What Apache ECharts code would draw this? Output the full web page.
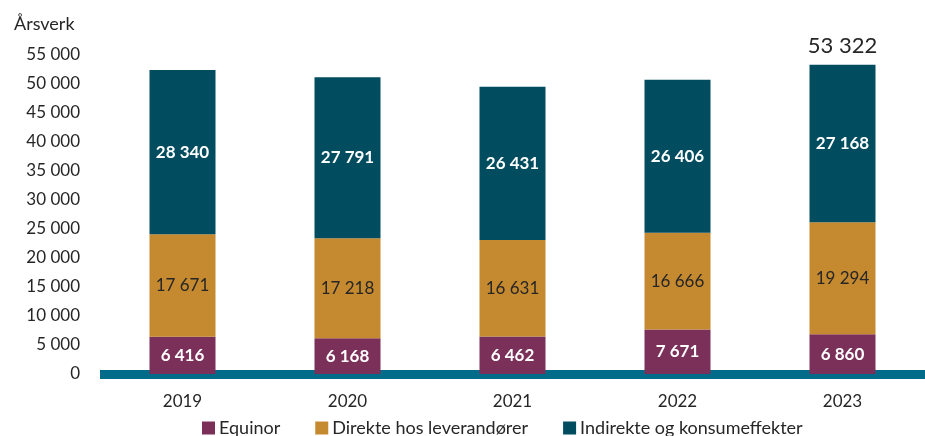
<!DOCTYPE html>
<html>
<head>
<meta charset="utf-8">
<script src="https://cdn.jsdelivr.net/npm/echarts@6/dist/echarts.min.js"></script>
<style>
  html, body { margin: 0; padding: 0; background: #fff; }
  #chart { width: 925px; height: 436px; }
</style>
</head>
<body>
<div id="chart"></div>
<script>
const years = ['2019', '2020', '2021', '2022', '2023']
const equinor = [6416, 6168, 6462, 7671, 6860]
const direkte = [17671, 17218, 16631, 16666, 19294]
const indirekte = [28340, 27791, 26431, 26406, 27168]
const totalLabels = [null, null, null, null, 53322]

const fmt = v => String(v).replace(/\B(?=(\d{3})+(?!\d))/g, ' ')
const font = 'Lato, "Open Sans", sans-serif'

const chart = echarts.init(document.getElementById('chart'))

chart.setOption({
  animation: false,
  textStyle: { fontFamily: font },
  title: {
    text: 'Årsverk',
    left: 9,
    top: 10,
    textStyle: { fontFamily: font, fontSize: 18, fontWeight: 'normal', color: '#262626' }
  },
  grid: { left: 100, right: -8, top: 55, bottom: 62 },
  legend: {
    left: 197,
    top: 414,
    icon: 'rect',
    itemWidth: 13,
    itemHeight: 13,
    itemGap: 35,
    textStyle: { fontFamily: font, fontSize: 18, color: '#262626', padding: [0, 0, 0, -1] },
    data: ['Equinor', 'Direkte hos leverandører', 'Indirekte og konsumeffekter']
  },
  xAxis: {
    type: 'category',
    data: years,
    axisTick: { show: false },
    axisLine: { lineStyle: { color: '#006C89', width: 9, cap: 'butt' } },
    axisLabel: { fontSize: 17, color: '#262626', margin: 19, fontFamily: font }
  },
  yAxis: {
    type: 'value',
    min: 0,
    max: 55000,
    interval: 5000,
    splitLine: { show: false },
    axisLine: { show: false },
    axisLabel: { fontSize: 17, color: '#262626', margin: 20, fontFamily: font, formatter: fmt }
  },
  series: [
    {
      name: 'Equinor',
      type: 'bar',
      stack: 'a',
      barWidth: 66,
      data: equinor,
      itemStyle: { color: '#7B3059' },
      label: { show: true, color: '#fff', fontWeight: 'bold', fontSize: 17, fontFamily: font, formatter: p => fmt(p.value) }
    },
    {
      name: 'Direkte hos leverandører',
      type: 'bar',
      stack: 'a',
      data: direkte,
      itemStyle: { color: '#C5892F' },
      label: { show: true, color: '#262626', fontSize: 17, fontFamily: font, formatter: p => fmt(p.value) }
    },
    {
      name: 'Indirekte og konsumeffekter',
      type: 'bar',
      stack: 'a',
      data: indirekte,
      itemStyle: { color: '#014C5F' },
      label: { show: true, color: '#fff', fontWeight: 'bold', fontSize: 17, fontFamily: font, formatter: p => fmt(p.value) }
    },
    {
      name: 'Total',
      type: 'bar',
      stack: 'a',
      data: totalLabels.map(v => (v == null ? '-' : 0)),
      itemStyle: { color: 'transparent' },
      label: {
        show: true,
        position: 'top',
        distance: 8,
        color: '#262626',
        fontSize: 22,
        fontFamily: font,
        formatter: p => (totalLabels[p.dataIndex] == null ? '' : fmt(totalLabels[p.dataIndex]))
      }
    }
  ]
})
</script>
</body>
</html>
